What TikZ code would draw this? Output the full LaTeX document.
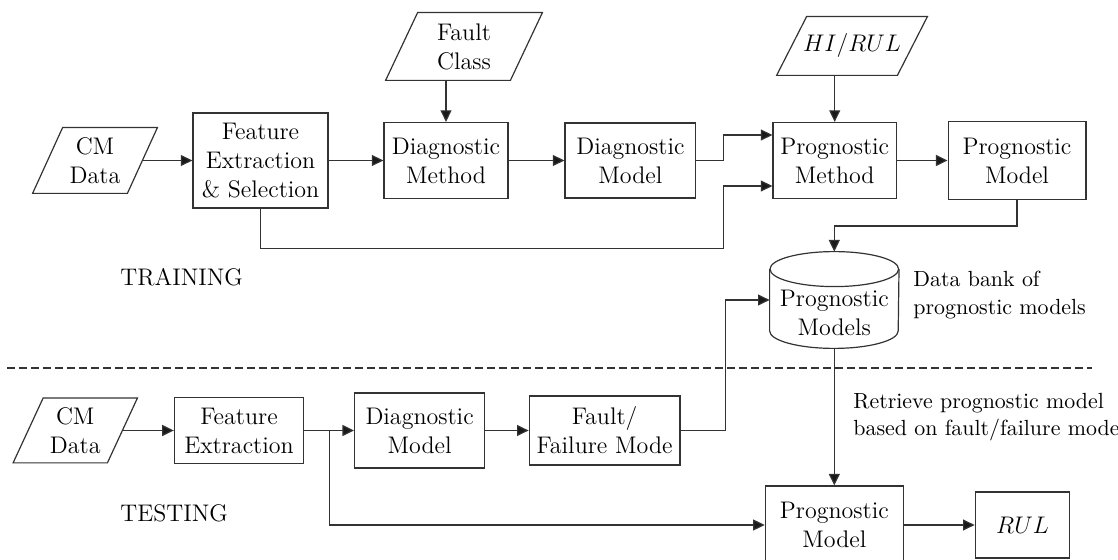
\documentclass[tikz,border=0pt]{standalone}
\usepackage{fontspec}
\usetikzlibrary{arrows.meta}

% outline of a data (input/output) parallelogram around a named node
\newcommand{\slantframe}[2]{%
  \draw[frame] ([xshift=#2]#1.north west) -- ([xshift=#2]#1.north east)
    -- ([xshift=-#2]#1.south east) -- ([xshift=-#2]#1.south west) -- cycle;}

\begin{document}
\begin{tikzpicture}[x=0.5pt,y=-0.5pt,
  font=\fontsize{12}{14.5}\selectfont,
  frame/.style={draw=black!80, line width=0.6pt},
  box/.style={frame, rectangle, align=center, inner sep=1pt},
  datain/.style={rectangle, align=center, inner sep=1pt},
  link/.style={frame, -{Triangle[length=5.8pt,width=5.5pt,fill=black!90]}},
  wire/.style={frame},
  note/.style={anchor=west, align=left, inner sep=0pt,
    font=\fontsize{10.95}{13.8}\selectfont},
  phase/.style={anchor=west, inner sep=0pt}]

\path[use as bounding box, fill=white] (0,0) rectangle (1118,560);

% ---------- training ----------
\node[datain, minimum width=47pt, minimum height=32.5pt] (cm1) at (95,160.5) {CM\\Data};
\slantframe{cm1}{7.5pt}
\node[box, minimum width=67.5pt, minimum height=47.5pt] (fes) at (260.5,160.5) {Feature\\Extraction\\\& Selection};
\node[box, minimum width=62pt, minimum height=38pt] (dme) at (446,160.5) {Diagnostic\\Method};
\node[datain, minimum width=62pt, minimum height=33.5pt] (fc) at (464,46.5) {Fault\\Class};
\slantframe{fc}{8pt}
\node[box, minimum width=65.4pt, minimum height=37.5pt] (dmo) at (630.4,160.5) {Diagnostic\\Model};
\node[box, minimum width=61.7pt, minimum height=38pt] (pme) at (834.7,160.5) {Prognostic\\Method};
\node[datain, minimum width=60pt, minimum height=29pt] (hi) at (852,46) {$HI/RUL$};
\slantframe{hi}{7.5pt}
\node[box, minimum width=68.9pt, minimum height=39pt] (pmo) at (1017,160.5) {Prognostic\\Model};

% data bank cylinder
\node[rectangle, inner sep=0pt, minimum width=64.3pt, minimum height=48pt,
  label={[yshift=-6.5pt, align=center]center:Prognostic\\Models}] (db) at (834.3,300) {};
\draw[frame] ([yshift=-8.75pt]db.north) ellipse [x radius=32.15pt, y radius=8.75pt];
\draw[frame] ([yshift=-8.75pt]db.north west) -- ([yshift=8.75pt]db.south west)
  arc[start angle=180, end angle=360, x radius=32.15pt, y radius=8.75pt]
  -- ([yshift=-8.75pt]db.north east);
\node[note] (bank) at (913,295) {Data bank of\\prognostic models};

\node[phase] (train) at (120,277) {TRAINING};

\coordinate (jx) at ([xshift=13.4pt]dmo.east);
\coordinate (pin1) at ([yshift=12.75pt]pme.west);
\coordinate (pin2) at ([yshift=-12.75pt]pme.west);

\draw[link] (cm1) -- (fes);
\draw[link] (fes) -- (dme);
\draw[link] (fc.south -| dme.north) -- (dme.north);
\draw[link] (dme) -- (dmo);
\draw[link] (dmo.east) -- (jx) |- (pin1);
\draw[link] (fes.south) -- ++(0,-20pt) -| (jx |- pin2) -- (pin2);
\draw[link] (hi.south -| pme.north) -- (pme.north);
\draw[link] (pme) -- (pmo);
\draw[link] (pmo.south) -- ++(0,-13pt) -| (db.north);

% ---------- separator ----------
\coordinate (sepL) at (7,368);
\coordinate (sepR) at (1092,368);
\draw[frame, dash pattern=on 4pt off 2pt] (sepL) -- (sepR);

% ---------- testing ----------
\node[datain, minimum width=46.75pt, minimum height=32pt] (cm2) at (75.25,430.5) {CM\\Data};
\slantframe{cm2}{7.5pt}
\node[box, minimum width=64.6pt, minimum height=32.8pt] (fe) at (239,430.5) {Feature\\Extraction};
\node[box, minimum width=65pt, minimum height=37.5pt] (dmo2) at (419.6,430.5) {Diagnostic\\Model};
\node[box, minimum width=75.4pt, minimum height=34.5pt] (ffm) at (604.6,430.5) {Fault/\\Failure Mode};
\node[box, minimum width=69pt, minimum height=39pt] (pmo2) at (834.3,525) {Prognostic\\Model};
\node[box, minimum width=47.3pt, minimum height=33pt] (rul) at (1022.5,525) {$RUL$};

\node[phase] (test) at (120,513) {TESTING};
\node[note] (retr) at (853,417) {Retrieve prognostic model\\based on fault/failure mode};

\coordinate (br) at ([xshift=12.5pt]fe.east);

\draw[link] (cm2) -- (fe);
\draw[link] (fe) -- (dmo2);
\draw[link] (br) |- (pmo2.west);
\draw[link] (dmo2) -- (ffm);
\draw[link] (ffm.east) -- ++(22.5pt,0) |- (db.west);
\draw[link] (db.south) -- (pmo2.north);
\draw[link] (pmo2) -- (rul);

\end{tikzpicture}
\end{document}
